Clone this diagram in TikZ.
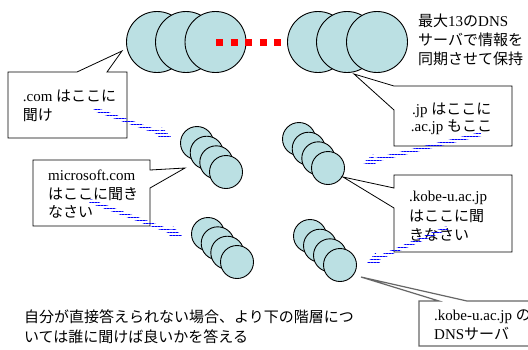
\documentclass[tikz,border=0pt]{standalone}
\usepackage{fontspec}
\setmainfont{Liberation Serif}
\newfontfamily\ja{Noto Sans CJK JP}
\usetikzlibrary{calc,patterns.meta}
\definecolor{srv}{RGB}{187,224,227}
\newcommand\bluearrow[2]{%
  \coordinate (#1h) at ($(#2)!12bp!(#1)$);
  \fill[pattern={Lines[angle=0,distance=3bp,line width=0.9bp]}, pattern color=blue]
    ($(#1)!2bp!90:(#2)$) -- ($(#1h)!2bp!90:(#2)$) -- ($(#1h)!6bp!90:(#2)$) -- (#2)
    -- ($(#1h)!6bp!-90:(#2)$) -- ($(#1h)!2bp!-90:(#2)$) -- ($(#1)!2bp!-90:(#2)$) -- cycle;}
\begin{document}
\begin{tikzpicture}[x=1bp,y=-1bp,
  big/.style={circle, draw=black, line width=0.9bp, fill=srv, minimum size=61bp, inner sep=0},
  small/.style={circle, draw=black, line width=0.9bp, fill=srv, minimum size=33bp, inner sep=0},
  callout/.style={draw=black, line width=0.8bp, fill=white, line join=miter},
  callgray/.style={draw=black!60, line width=1.2bp, fill=white, line join=miter},
  txt/.style={anchor=base west, inner sep=0, font=\fontsize{15bp}{19bp}\selectfont}]
\clip (0,0) rectangle (528,349);
\fill[white] (0,0) rectangle (528,349);
% top server groups
\node[big] (L1) at (157,42) {};
\node[big] (L2) at (186,42) {};
\node[big] (L3) at (215.5,42) {};
\node[big] (R1) at (318,42) {};
\node[big] (R2) at (347,42) {};
\node[big] (R3) at (377,42) {};
\coordinate (ra) at (216,42);
\coordinate (rb) at (281.5,42);
\draw[red, line width=7bp, dash pattern=on 7bp off 7.6bp] (ra) -- (rb);
% stacks
\node[small] (A1) at (197,143) {};
\node[small] (A2) at (206.7,152.7) {};
\node[small] (A3) at (216.3,162.3) {};
\node[small] (A4) at (226,172) {};
\node[small] (B1) at (208,234) {};
\node[small] (B2) at (217.7,243.3) {};
\node[small] (B3) at (227.3,252.7) {};
\node[small] (B4) at (237,262) {};
\node[small] (C1) at (299,139) {};
\node[small] (C2) at (308.7,148.7) {};
\node[small] (C3) at (318.3,158.3) {};
\node[small] (C4) at (328,168) {};
\node[small] (D1) at (310,236) {};
\node[small] (D2) at (320,245.7) {};
\node[small] (D3) at (330,255.3) {};
\node[small] (D4) at (340,265) {};
% callouts
\draw[callout] (8,72) -- (77,72) -- (122,51) -- (107,72) -- (127,72) -- (127,138) -- (8,138) -- cycle;
\draw[callout] (394,86) -- (512,86) -- (512,146) -- (394,146) -- (394,110) -- (354,74) -- cycle;
\draw[callout] (33,160) -- (150,160) -- (150,170) -- (185,168) -- (150,188) -- (150,226) -- (33,226) -- cycle;
\draw[callout] (394,175) -- (512,175) -- (512,252) -- (394,252) -- (394,208) -- (343,177) -- (394,188) -- cycle;
\draw[callgray] (419,301) -- (439,301) -- (361,277) -- (467,301) -- (540,301) -- (540,346) -- (419,346) -- cycle;
% texts
\node[txt] (n1) at (418,26) {{\ja 最大}13{\ja の}DNS};
\node[txt] (n2) at (418,45.5) {\ja サーバで情報を};
\node[txt] (n3) at (418,64.5) {\ja 同期させて保持};
\node[txt] (c1a) at (22.7,101) {.com {\ja はここに}};
\node[txt] (c1b) at (22.7,120) {\ja 聞け};
\node[txt] (c2a) at (412,114) {.jp {\ja はここに}};
\node[txt] (c2b) at (410.7,131) {.ac.jp {\ja もここ}};
\node[txt] (c3a) at (48,180) {microsoft.com};
\node[txt] (c3b) at (48,199) {\ja はここに聞き};
\node[txt] (c3c) at (48,217.5) {\ja なさい};
\node[txt] (c4a) at (409,201.5) {.kobe-u.ac.jp};
\node[txt] (c4b) at (409,221.5) {\ja はここに聞};
\node[txt] (c4c) at (409,240.5) {\ja きなさい};
\node[txt] (c5a) at (434,320) {.kobe-u.ac.jp {\ja の}};
\node[txt] (c5b) at (434,339) {DNS{\ja サーバ}};
\node[txt] (b1) at (24,322) {\ja 自分が直接答えられない場合、より下の階層につ};
\node[txt] (b2) at (24,342) {\ja いては誰に聞けば良いかを答える};
% blue arrows
\coordinate (p1s) at (94,109);  \coordinate (p1e) at (171,137);
\coordinate (p2s) at (481,134); \coordinate (p2e) at (363,163);
\coordinate (p3s) at (90,201);  \coordinate (p3e) at (182,236);
\coordinate (p4s) at (447,228); \coordinate (p4e) at (367,263);
\bluearrow{p1s}{p1e}
\bluearrow{p2s}{p2e}
\bluearrow{p3s}{p3e}
\bluearrow{p4s}{p4e}
\end{tikzpicture}
\end{document}
